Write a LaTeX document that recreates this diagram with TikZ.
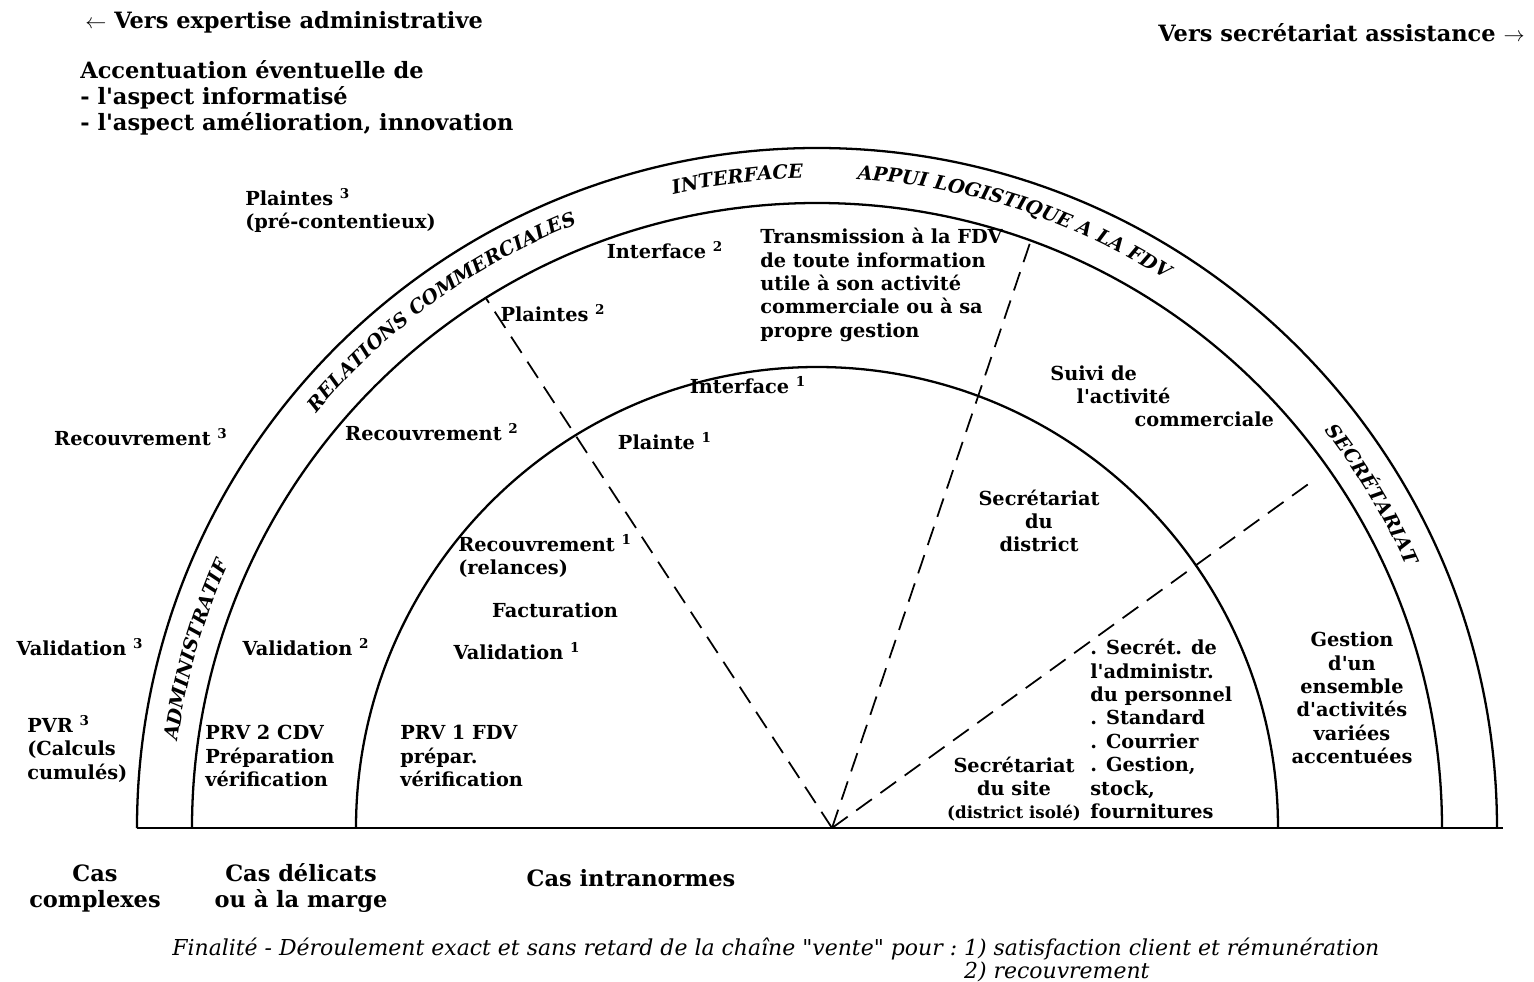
\documentclass[tikz,border=0pt]{standalone}
\usepackage{fontspec}
\setmainfont{DejaVu Serif}[Ligatures=TeXOff]
\usetikzlibrary{decorations.text}

\newcommand\bodyfont{\fontsize{11}{13.3}\selectfont\bfseries}
\newcommand\bigfont{\fontsize{12.8}{14.8}\selectfont\bfseries}
\newcommand\bandfont{\fontsize{11}{13}\selectfont\bfseries\itshape}
\newcommand\footfont{\fontsize{12.5}{12}\selectfont\itshape}

\begin{document}
\begin{tikzpicture}[x=0.02cm, y=0.02cm,
  every node/.style={inner sep=0pt, font=\bodyfont},
  txt/.style={align=left, anchor=north west},
  ctr/.style={align=center},
  big/.style={font=\bigfont},
  rim/.style={line width=1.3pt},
  ray/.style={line width=1pt, dash pattern=on 11pt off 6pt},
  band/.style={decorate, decoration={text along path, text align=center, text={|\bandfont|#1}}},
]
  \useasboundingbox (-817,-153) rectangle (717,828);

  \draw[rim] (-680,0) -- (686,0);
  \draw[rim] (-461,0) arc[start angle=180, end angle=0, radius=461];
  \draw[rim] (-625,0) arc[start angle=180, end angle=0, radius=625];
  \draw[rim] (-680,0) arc[start angle=180, end angle=0, radius=680];

  \coordinate (hub) at (15,0);
  \coordinate (ray1) at (122:625);
  \coordinate (ray2) at (70:625);
  \coordinate (ray3) at (35:605);
  \draw[ray] (hub) -- (ray1);
  \draw[ray] (hub) -- (ray2);
  \draw[ray] (hub) -- (ray3);

  \path[band={RELATIONS COMMERCIALES}] (156:650) arc[start angle=156, end angle=96, radius=650];
  \path[band={INTERFACE}] (127:650) arc[start angle=127, end angle=67, radius=650];
  \path[band={APPUI LOGISTIQUE A LA FDV}] (102:650) arc[start angle=102, end angle=42, radius=650];
  \path[band={SECRÉTARIAT}] (61:645) arc[start angle=61, end angle=1, radius=645];
  \path[band={ADMINISTRATIF}] (194:645) arc[start angle=194, end angle=134, radius=645];

  \node[big, anchor=west] (toleft) at (-732,806) {$\leftarrow$ Vers expertise administrative};
  \node[big, anchor=east] (toright) at (708,795) {Vers secrétariat assistance $\rightarrow$};
  \node[big, txt] (accent) at (-737,768) {Accentuation éventuelle de\\- l'aspect informatisé\\- l'aspect amélioration, innovation};

  \node[txt] (plaintes3) at (-572,640) {Plaintes \textsuperscript{3}\\(pré-contentieux)};
  \node (interface2) at (-152,578) {Interface \textsuperscript{2}};
  \node[txt] (transmission) at (-57,600) {Transmission à la FDV\\de toute information\\utile à son activité\\commerciale ou à sa\\propre gestion};
  \node (plaintes2) at (-264,515) {Plaintes \textsuperscript{2}};
  \node (interface1) at (-69,443) {Interface \textsuperscript{1}};
  \node[txt] (suivi) at (233,463) {Suivi de\\\hspace*{15pt}l'activité\\\hspace*{48pt}commerciale};
  \node (recouv3) at (-676,391) {Recouvrement \textsuperscript{3}};
  \node (recouv2) at (-385,396) {Recouvrement \textsuperscript{2}};
  \node (plainte1) at (-152,387) {Plainte \textsuperscript{1}};
  \node[ctr] (secdistrict) at (222,307) {Secrétariat\\du\\district};
  \node[txt] (recouv1) at (-359,294) {Recouvrement \textsuperscript{1}\\(relances)};
  \node (factu) at (-262,218) {Facturation};
  \node (valid3) at (-737,181) {Validation \textsuperscript{3}};
  \node (valid2) at (-511,181) {Validation \textsuperscript{2}};
  \node (valid1) at (-300,177) {Validation \textsuperscript{1}};
  \node[txt] (taches) at (273,189) {. Secrét. de\\l'administr.\\du personnel\\. Standard\\. Courrier\\. Gestion,\\stock,\\fournitures};
  \node[ctr] (gestion) at (535,130) {Gestion\\d'un\\ensemble\\d'activités\\variées\\accentuées};
  \node[txt] (pvr3) at (-790,113) {PVR \textsuperscript{3}\\(Calculs\\cumulés)};
  \node[txt] (prv2) at (-612,103) {PRV 2 CDV\\Préparation\\vérification};
  \node[txt] (prv1) at (-417,103) {PRV 1 FDV\\prépar.\\vérification};
  \node[ctr] (secsite) at (197,39) {Secrétariat\\du site\\{\fontsize{9.5}{13.3}\selectfont (district isolé)}};

  \node[big, ctr] (complexes) at (-722,-60) {Cas\\complexes};
  \node[big, ctr] (delicats) at (-516,-60) {Cas délicats\\ou à la marge};
  \node[big] (intranormes) at (-186,-50) {Cas intranormes};
  \node[anchor=base west, font=\footfont] (finalite) at (-645,-127) {Finalité - Déroulement exact et sans retard de la chaîne "vente" pour :\ \begin{tabular}[t]{@{}l@{}}1) satisfaction client et rémunération\\2) recouvrement\end{tabular}};
\end{tikzpicture}
\end{document}
